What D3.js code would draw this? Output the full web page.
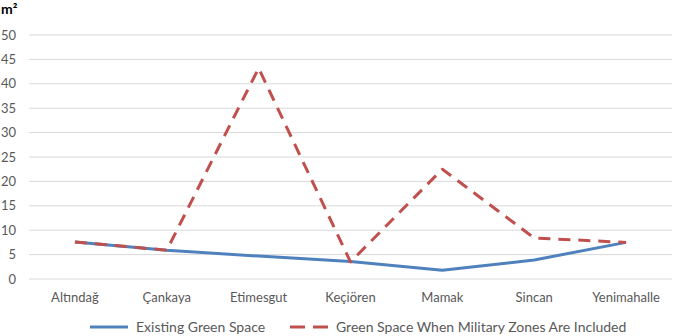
<!DOCTYPE html>
<html>
<head>
<meta charset="utf-8">
<script src="https://cdn.jsdelivr.net/npm/d3@7"></script>
<style>
  body { margin: 0; background: #fff; }
  text { font-family: Lato, Calibri, "Liberation Sans", sans-serif; }
</style>
</head>
<body>
<div id="chart"></div>
<script>
const districts = ['Altındağ', 'Çankaya', 'Etimesgut', 'Keçiören', 'Mamak', 'Sincan', 'Yenimahalle'];
const existing = [7.6, 5.9, 4.7, 3.6, 1.8, 3.9, 7.5];
const withMilitary = [7.6, 5.9, 43.2, 3.5, 22.5, 8.4, 7.5];
const yTicks = [0, 5, 10, 15, 20, 25, 30, 35, 40, 45, 50];
const seriesNames = ['Existing Green Space', 'Green Space When Military Zones Are Included'];

const W = 685, H = 336;
const margin = { top: 35, right: 13, bottom: 57, left: 29 };
const width = W - margin.left - margin.right;
const height = H - margin.top - margin.bottom;

const svg = d3.select('#chart').append('svg')
    .attr('width', W)
    .attr('height', H);

const g = svg.append('g')
    .attr('transform', `translate(${margin.left},${margin.top})`);

const x = d3.scalePoint()
  .domain(districts)
  .range([0, width])
  .padding(0.5);

const y = d3.scaleLinear()
  .domain([0, 50])
  .range([height, 0]);

// gridlines
g.append('g')
  .selectAll('line')
  .data(yTicks)
  .join('line')
    .attr('x1', 0)
    .attr('x2', width)
    .attr('y1', d => y(d))
    .attr('y2', d => y(d))
    .attr('stroke', '#d9d9d9')
    .attr('stroke-width', 1);

// y labels
g.append('g')
  .selectAll('text')
  .data(yTicks)
  .join('text')
    .attr('x', -13)
    .attr('y', d => y(d))
    .attr('dy', '0.35em')
    .attr('text-anchor', 'end')
    .attr('font-size', 13)
    .attr('fill', '#595959')
    .text(d => d);

// x labels
g.append('g')
  .selectAll('text')
  .data(districts)
  .join('text')
    .attr('x', d => x(d))
    .attr('y', height + 23)
    .attr('text-anchor', 'middle')
    .attr('font-size', 13)
    .attr('fill', '#595959')
    .text(d => d);

svg.append('text')
    .attr('x', 1)
    .attr('y', 14)
    .attr('font-size', 14)
    .attr('font-weight', 'bold')
    .attr('fill', '#000')
    .text('m²');

const line = d3.line()
  .x((d, i) => x(districts[i]))
  .y(d => y(d));

g.append('path')
    .datum(existing)
    .attr('fill', 'none')
    .attr('stroke', '#4f81bd')
    .attr('stroke-width', 3)
    .attr('stroke-linejoin', 'round')
    .attr('d', line);

g.append('path')
    .datum(withMilitary)
    .attr('fill', 'none')
    .attr('stroke', '#c0504d')
    .attr('stroke-width', 3)
    .attr('stroke-dasharray', '12,8')
    .attr('stroke-linejoin', 'round')
    .attr('d', line);

// legend
const legend = svg.append('g').attr('transform', 'translate(0,327)');
const legendItems = [
  { name: seriesNames[0], color: '#4f81bd', dash: null, x: 90 },
  { name: seriesNames[1], color: '#c0504d', dash: '15,8', x: 290 }
];
legendItems.forEach(item => {
  legend.append('line')
      .attr('x1', item.x)
      .attr('x2', item.x + 38)
      .attr('y1', 0)
      .attr('y2', 0)
      .attr('stroke', item.color)
      .attr('stroke-width', 3)
      .attr('stroke-dasharray', item.dash);
  legend.append('text')
      .attr('x', item.x + 46)
      .attr('y', 0)
      .attr('dy', '0.35em')
      .attr('font-size', 14)
      .attr('fill', '#595959')
      .text(item.name);
});
</script>
</body>
</html>
